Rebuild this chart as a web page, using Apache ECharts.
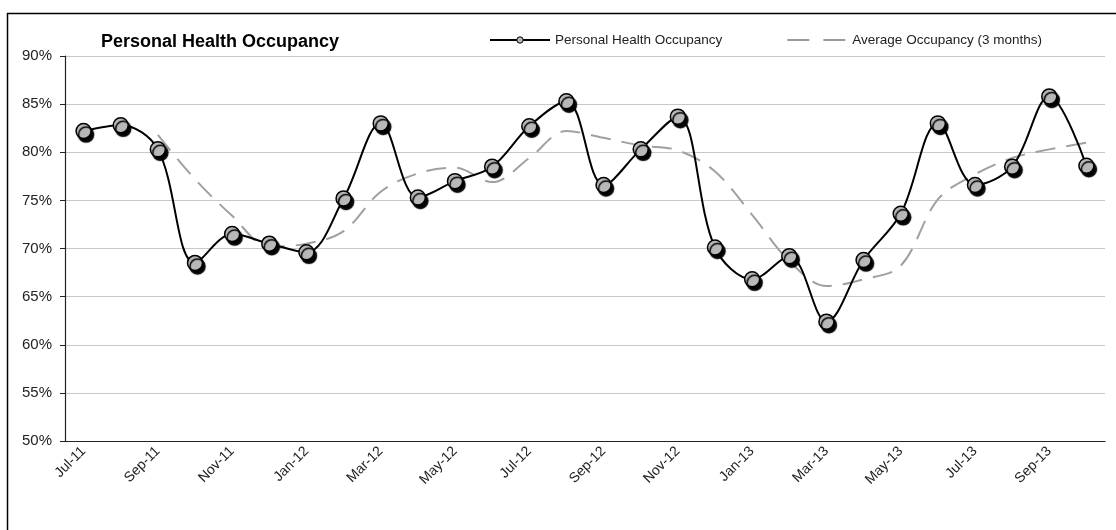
<!DOCTYPE html>
<html>
<head>
<meta charset="utf-8">
<script src="https://cdn.jsdelivr.net/npm/echarts@6/dist/echarts.min.js"></script>
<style>
html,body{margin:0;padding:0;background:#fff;}
#chart{width:1116px;height:530px;}
</style>
</head>
<body>
<div id="chart"></div>
<script>
var categories = ['Jul-11','Aug-11','Sep-11','Oct-11','Nov-11','Dec-11','Jan-12','Feb-12','Mar-12','Apr-12','May-12','Jun-12','Jul-12','Aug-12','Sep-12','Oct-12','Nov-12','Dec-12','Jan-13','Feb-13','Mar-13','Apr-13','May-13','Jun-13','Jul-13','Aug-13','Sep-13','Oct-13'];
var occupancy = [82.2, 82.8, 80.3, 68.5, 71.5, 70.5, 69.6, 75.2, 83.0, 75.3, 77.0, 78.5, 82.7, 85.3, 76.6, 80.3, 83.7, 70.1, 66.8, 69.2, 62.4, 68.8, 73.6, 83.0, 76.6, 78.5, 85.8, 78.6];
var average3 = [null, null, 81.8, 77.2, 73.4, 70.2, 70.5, 71.8, 75.9, 77.8, 78.4, 76.9, 79.4, 82.2, 81.5, 80.7, 80.2, 78.0, 73.5, 68.7, 66.1, 66.8, 68.2, 75.1, 77.7, 79.4, 80.3, 81.0];
var yTicks = [50, 55, 60, 65, 70, 75, 80, 85, 90];

var sans = "'Liberation Sans', Arial, sans-serif";

var chart = echarts.init(document.getElementById('chart'), null, {renderer: 'canvas'});
chart.setOption({
  animation: false,
  backgroundColor: '#fff',
  graphic: [{
    type: 'rect',
    left: 5, top: 11,
    shape: {width: 1130, height: 540},
    style: {fill: 'none', stroke: '#000', lineWidth: 1.5},
    silent: true
  }],
  title: {
    text: 'Personal Health Occupancy',
    left: 96, top: 28,
    textStyle: {fontFamily: sans, fontSize: 18, fontWeight: 'bold', color: '#000'}
  },
  legend: {
    left: 484, top: 28,
    itemGap: 64,
    itemWidth: 60, itemHeight: 8,
    textStyle: {fontFamily: sans, fontSize: 13.5, color: '#222'},
    data: [
      {name: 'Personal Health Occupancy', itemStyle: {shadowBlur: 0, shadowOffsetX: 0, shadowOffsetY: 0, borderWidth: 1}},
      {name: 'Average Occupancy (3 months)', itemStyle: {opacity: 0}, lineStyle: {type: [22, 14], color: '#9a9a9a', width: 2}}
    ]
  },
  grid: {left: 65, right: 11, top: 56, bottom: 89},
  xAxis: {
    type: 'category',
    data: categories,
    boundaryGap: true,
    axisLine: {lineStyle: {color: '#222', width: 1.2}},
    axisTick: {interval: 1, length: 5, lineStyle: {color: '#222'}},
    axisLabel: {interval: 1, rotate: 45, margin: 8, fontFamily: sans, fontSize: 14, color: '#222'},
    splitLine: {show: false}
  },
  yAxis: {
    type: 'value',
    min: yTicks[0], max: yTicks[yTicks.length - 1], interval: 5,
    axisLine: {show: true, lineStyle: {color: '#222', width: 1.2}},
    axisTick: {show: true, length: 5, lineStyle: {color: '#222'}},
    axisLabel: {margin: 13, fontFamily: sans, fontSize: 15, color: '#222', formatter: function (v) { return v + '%'; }},
    splitLine: {lineStyle: {color: '#c8c8c8', width: 1}}
  },
  series: [
    {
      name: 'Average Occupancy (3 months)',
      type: 'line',
      data: average3,
      smooth: 0.35,
      showSymbol: false,
      symbol: 'none',
      lineStyle: {color: '#a0a0a0', width: 2, type: [20, 11]},
      itemStyle: {color: '#a0a0a0'},
      z: 2
    },
    {
      name: 'Personal Health Occupancy',
      type: 'line',
      data: occupancy,
      smooth: 0.35,
      symbol: 'circle',
      symbolSize: 15,
      lineStyle: {color: '#000', width: 2},
      itemStyle: {color: '#b8b8b8', borderColor: '#000', borderWidth: 1.5, shadowColor: 'rgba(0,0,0,1)', shadowBlur: 1, shadowOffsetX: 2.5, shadowOffsetY: 3.5},
      z: 3
    }
  ]
});
</script>
</body>
</html>
